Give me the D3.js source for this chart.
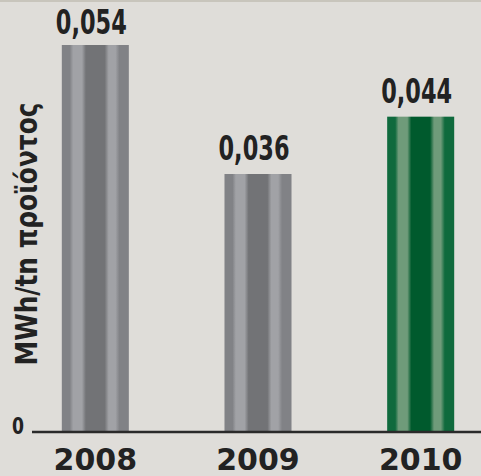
<!DOCTYPE html>
<html>
<head>
<meta charset="utf-8">
<script src="https://cdn.jsdelivr.net/npm/d3@7"></script>
<style>
  body { margin: 0; background: #dfddd9; }
  svg { display: block; }
</style>
</head>
<body>
<div id="chart"></div>
<script>
var years = ["2008", "2009", "2010"];
var values = [0.054, 0.036, 0.044];
var barStyle = ["gray", "gray", "green"];
var valueLabels = ["0,054", "0,036", "0,044"];
var yLabel = "MWh/tn προϊόντος";

var W = 481, H = 476;
var baseY = 432;

var svg = d3.select("#chart").append("svg")
  .attr("width", W)
  .attr("height", H);

svg.append("rect").attr("width", W).attr("height", H).attr("fill", "#dfddd9");
svg.append("rect").attr("width", W).attr("height", 2).attr("fill", "#c8c5bc");

// cylinder-like gradients
var defs = svg.append("defs");
function stripes(id, edge, light, dark) {
  var g = defs.append("linearGradient").attr("id", id)
    .attr("x1", "0%").attr("x2", "100%").attr("y1", "0%").attr("y2", "0%");
  var stops = [
    [0, edge], [0.12, edge], [0.17, light], [0.3, light], [0.36, dark],
    [0.64, dark], [0.7, light], [0.8, light], [0.86, edge], [1, edge]
  ];
  stops.forEach(function(s) {
    g.append("stop").attr("offset", s[0]).attr("stop-color", s[1]);
  });
}
stripes("gray", "#818286", "#a1a2a6", "#727376");
stripes("green", "#0f6a3d", "#6f9b7a", "#005a2d");

var x = d3.scaleBand()
  .domain(years)
  .range([13, 503])
  .paddingInner(0.588)
  .paddingOuter(0.3);

var y = d3.scaleLinear()
  .domain([0, 0.054])
  .range([baseY, 45]);

svg.append("g")
  .selectAll("rect")
  .data(years)
  .enter()
  .append("rect")
    .attr("x", function(d) { return x(d); })
    .attr("width", x.bandwidth())
    .attr("y", function(d, i) { return y(values[i]); })
    .attr("height", function(d, i) { return baseY - y(values[i]); })
    .attr("fill", function(d, i) { return "url(#" + barStyle[i] + ")"; });

// baseline
svg.append("line")
  .attr("x1", 32).attr("x2", W)
  .attr("y1", baseY).attr("y2", baseY)
  .attr("stroke", "#2a2a2a")
  .attr("stroke-width", 2.5);

var font = "'DejaVu Sans', sans-serif";

// value labels (condensed with textLength)
svg.append("g")
  .selectAll("text")
  .data(years)
  .enter()
  .append("text")
    .attr("x", function(d) { return x(d) + x.bandwidth() / 2 - 4; })
    .attr("y", function(d, i) { return Math.max(34, y(values[i]) - 14); })
    .attr("text-anchor", "middle")
    .attr("textLength", 71)
    .attr("lengthAdjust", "spacingAndGlyphs")
    .style("font-family", font)
    .style("font-weight", "bold")
    .style("font-size", "33px")
    .style("fill", "#222")
    .text(function(d, i) { return valueLabels[i]; });

// year labels
svg.append("g")
  .selectAll("text")
  .data(years)
  .enter()
  .append("text")
    .attr("x", function(d) { return x(d) + x.bandwidth() / 2; })
    .attr("y", 470)
    .attr("text-anchor", "middle")
    .style("font-family", font)
    .style("font-weight", "bold")
    .style("font-size", "30px")
    .style("fill", "#222")
    .text(function(d) { return d; });

// zero tick
svg.append("text")
  .attr("x", 18).attr("y", 434)
  .attr("text-anchor", "middle")
  .attr("textLength", 12)
  .attr("lengthAdjust", "spacingAndGlyphs")
  .style("font-family", font)
  .style("font-weight", "bold")
  .style("font-size", "23px")
  .style("fill", "#222")
  .text("0");

// y axis title
svg.append("text")
  .attr("transform", "translate(37,234) rotate(-90)")
  .attr("text-anchor", "middle")
  .attr("textLength", 263)
  .attr("lengthAdjust", "spacingAndGlyphs")
  .style("font-family", font)
  .style("font-weight", "bold")
  .style("font-size", "30px")
  .style("fill", "#222")
  .text(yLabel);
</script>
</body>
</html>
